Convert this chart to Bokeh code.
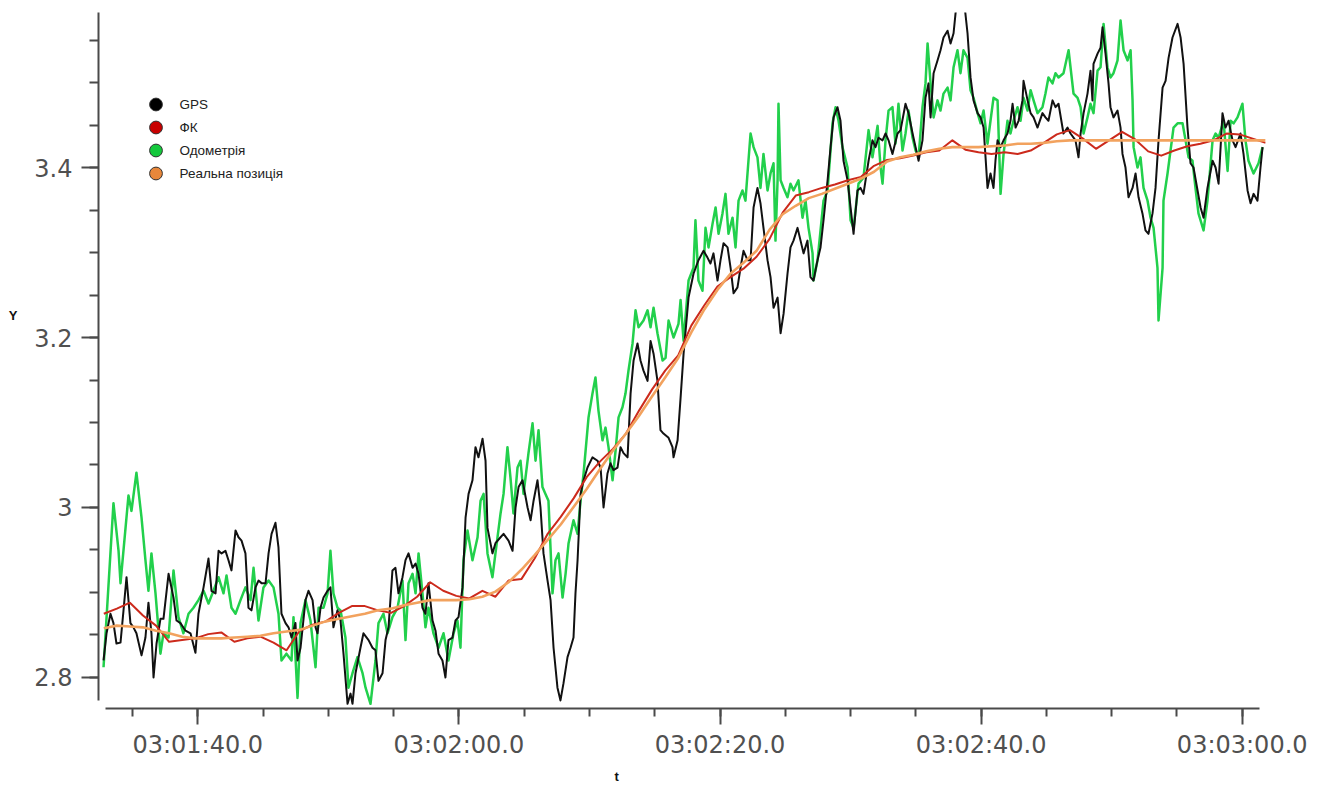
import numpy as np
from bokeh.plotting import figure
from bokeh.models import (FixedTicker, Legend, LegendItem, LinearAxis, Title, Range1d)
from bokeh.embed import file_html
from bokeh.resources import INLINE

# Time axis: seconds after 03:00:00
gps_t = [92.78, 93.01, 93.31, 93.54, 93.77, 94.08, 94.31, 94.54, 94.84, 95.07,
         95.30, 95.69, 95.99, 96.22, 96.45, 96.61, 96.84, 97.14, 97.37, 97.76,
         98.14, 98.37, 98.67, 99.06, 99.44, 99.82, 100.05, 100.44, 100.82, 101.05,
         101.36, 101.59, 101.82, 102.12, 102.35, 102.58, 102.89, 103.12, 103.35, 103.65,
         103.88, 104.11, 104.42, 104.65, 104.88, 105.19, 105.42, 105.65, 105.95, 106.18,
         106.41, 106.72, 106.95, 107.18, 107.48, 107.64, 107.87, 108.25, 108.48, 108.79,
         109.02, 109.17, 109.40, 109.63, 109.94, 110.16, 110.39, 110.70, 110.93, 111.16,
         111.47, 111.70, 111.85, 112.08, 112.46, 112.69, 113.08, 113.38, 113.61, 113.84,
         114.15, 114.38, 114.61, 114.91, 115.14, 115.37, 115.68, 115.91, 116.14, 116.45,
         116.68, 116.91, 117.21, 117.44, 117.67, 117.98, 118.21, 118.44, 118.74, 118.97,
         119.20, 119.51, 119.74, 119.97, 120.28, 120.51, 120.74, 121.04, 121.27, 121.50,
         121.81, 122.04, 122.19, 122.57, 122.80, 123.19, 123.42, 123.80, 124.11, 124.34,
         124.57, 124.87, 125.26, 125.49, 125.72, 126.02, 126.25, 126.48, 126.79, 127.02,
         127.25, 127.55, 127.78, 128.01, 128.32, 128.55, 128.78, 128.93, 129.09, 129.32,
         129.55, 129.85, 130.23, 130.62, 130.85, 131.08, 131.38, 131.61, 131.84, 132.15,
         132.38, 132.61, 132.92, 133.15, 133.38, 133.68, 133.91, 134.14, 134.45, 134.68,
         134.91, 135.21, 135.44, 135.67, 136.06, 136.36, 136.44, 136.75, 136.98, 137.21,
         137.59, 137.97, 138.35, 138.74, 139.04, 139.27, 139.50, 139.81, 140.04, 140.27,
         140.58, 140.81, 141.04, 141.34, 141.57, 141.80, 142.11, 142.34, 142.57, 142.87,
         143.10, 143.33, 143.64, 143.87, 144.10, 144.41, 144.64, 144.87, 145.17, 145.40,
         145.63, 145.94, 146.17, 146.40, 146.70, 146.93, 147.16, 147.47, 147.70, 147.93,
         148.24, 148.47, 148.70, 149.00, 149.23, 149.46, 149.77, 150.00, 150.23, 150.53,
         150.76, 150.99, 151.38, 151.68, 151.91, 152.14, 152.45, 152.68, 152.91, 153.21,
         153.60, 153.83, 154.21, 154.44, 154.75, 154.98, 155.21, 155.51, 155.74, 155.97,
         156.13, 156.36, 156.66, 156.89, 157.12, 157.43, 157.66, 157.89, 158.04, 158.19,
         158.42, 158.65, 158.96, 159.19, 159.42, 159.73, 159.96, 160.19, 160.34, 160.49,
         160.72, 160.95, 161.10, 161.26, 161.49, 161.72, 162.02, 162.25, 162.41, 162.64,
         162.87, 163.17, 163.25, 163.56, 163.79, 164.02, 164.32, 164.70, 164.93, 165.16,
         165.47, 165.70, 165.93, 166.31, 166.62, 166.85, 167.23, 167.46, 167.62, 167.85,
         168.15, 168.38, 168.53, 168.61, 168.92, 169.15, 169.30, 169.53, 169.76, 169.91,
         170.14, 170.45, 170.68, 170.83, 171.06, 171.29, 171.60, 171.83, 172.06, 172.36,
         172.59, 172.82, 173.13, 173.36, 173.59, 173.90, 174.13, 174.36, 174.66, 175.05,
         175.28, 175.51, 175.81, 176.04, 176.27, 176.58, 176.81, 177.04, 177.34, 177.73,
         177.96, 178.19, 178.49, 178.72, 178.95, 179.26, 179.49, 179.87, 180.10, 180.41,
         180.64, 180.87, 181.17, 181.40, 181.56]
gps_y = [2.820, 2.852, 2.875, 2.864, 2.840, 2.841, 2.879, 2.918, 2.864, 2.859,
         2.852, 2.826, 2.847, 2.888, 2.852, 2.800, 2.840, 2.869, 2.869, 2.922,
         2.894, 2.867, 2.864, 2.855, 2.852, 2.829, 2.875, 2.906, 2.940, 2.902,
         2.899, 2.949, 2.946, 2.949, 2.938, 2.926, 2.973, 2.965, 2.961, 2.946,
         2.882, 2.879, 2.906, 2.914, 2.911, 2.911, 2.946, 2.969, 2.982, 2.953,
         2.875, 2.864, 2.859, 2.847, 2.864, 2.820, 2.835, 2.891, 2.902, 2.891,
         2.859, 2.852, 2.882, 2.894, 2.902, 2.906, 2.859, 2.879, 2.867, 2.828,
         2.769, 2.781, 2.769, 2.805, 2.835, 2.852, 2.844, 2.835, 2.832, 2.796,
         2.805, 2.844, 2.859, 2.926, 2.929, 2.899, 2.918, 2.938, 2.946, 2.929,
         2.934, 2.922, 2.882, 2.875, 2.911, 2.867, 2.855, 2.828, 2.820, 2.800,
         2.844, 2.847, 2.867, 2.871, 2.906, 2.988, 3.016, 3.032, 3.071, 3.059,
         3.081, 3.055, 2.976, 2.946, 2.958, 2.965, 2.969, 2.961, 2.949, 3.000,
         3.024, 3.032, 3.000, 2.985, 3.008, 3.032, 3.000, 2.946, 2.914, 2.891,
         2.835, 2.788, 2.773, 2.793, 2.824, 2.835, 2.847, 2.899, 2.938, 3.016,
         3.032, 3.047, 3.059, 3.055, 3.047, 3.000, 3.040, 3.052, 3.044, 3.047,
         3.071, 3.064, 3.059, 3.134, 3.173, 3.193, 3.173, 3.161, 3.149, 3.196,
         3.181, 3.149, 3.091, 3.087, 3.082, 3.071, 3.059, 3.079, 3.129, 3.181,
         3.247, 3.275, 3.291, 3.302, 3.294, 3.287, 3.299, 3.267, 3.291, 3.311,
         3.306, 3.282, 3.252, 3.259, 3.282, 3.302, 3.291, 3.291, 3.353, 3.376,
         3.358, 3.329, 3.291, 3.271, 3.235, 3.247, 3.205, 3.228, 3.275, 3.306,
         3.314, 3.329, 3.314, 3.299, 3.314, 3.271, 3.267, 3.291, 3.306, 3.338,
         3.385, 3.424, 3.459, 3.471, 3.455, 3.408, 3.385, 3.353, 3.322, 3.373,
         3.376, 3.369, 3.408, 3.432, 3.424, 3.435, 3.432, 3.440, 3.432, 3.416,
         3.440, 3.444, 3.475, 3.464, 3.440, 3.424, 3.408, 3.432, 3.482, 3.499,
         3.459, 3.511, 3.526, 3.538, 3.553, 3.561, 3.546, 3.558, 3.581, 3.602,
         3.614, 3.602, 3.558, 3.506, 3.479, 3.464, 3.459, 3.447, 3.412, 3.376,
         3.393, 3.376, 3.408, 3.432, 3.424, 3.432, 3.440, 3.455, 3.475, 3.447,
         3.455, 3.479, 3.502, 3.479, 3.464, 3.459, 3.447, 3.464, 3.459, 3.455,
         3.479, 3.471, 3.475, 3.440, 3.447, 3.440, 3.432, 3.412, 3.440, 3.464,
         3.487, 3.514, 3.479, 3.522, 3.534, 3.541, 3.565, 3.534, 3.499, 3.471,
         3.459, 3.467, 3.447, 3.416, 3.400, 3.365, 3.376, 3.393, 3.365, 3.346,
         3.326, 3.322, 3.346, 3.376, 3.432, 3.494, 3.502, 3.529, 3.553, 3.569,
         3.553, 3.522, 3.447, 3.405, 3.400, 3.373, 3.353, 3.341, 3.376, 3.408,
         3.400, 3.381, 3.464, 3.447, 3.455, 3.432, 3.424, 3.440, 3.416, 3.373,
         3.358, 3.369, 3.361, 3.400, 3.424]

odo_t = [92.78, 93.54, 93.93, 94.08, 94.69, 94.92, 95.30, 95.69, 95.99, 96.22,
         96.45, 96.76, 97.14, 97.37, 97.76, 98.14, 98.52, 98.90, 99.29, 99.67,
         100.05, 100.44, 100.82, 101.20, 101.59, 101.97, 102.20, 102.58, 102.89, 103.27,
         103.65, 104.04, 104.27, 104.65, 105.03, 105.42, 105.80, 106.18, 106.41, 106.79,
         107.18, 107.33, 107.64, 107.87, 108.25, 108.63, 109.02, 109.25, 109.63, 109.94,
         110.16, 110.39, 110.70, 110.93, 111.31, 111.54, 111.85, 112.23, 112.62, 112.85,
         113.23, 113.61, 113.84, 114.22, 114.53, 114.91, 115.30, 115.68, 115.91, 116.14,
         116.45, 116.68, 116.91, 117.21, 117.44, 117.67, 118.05, 118.44, 118.82, 119.20,
         119.59, 119.89, 120.12, 120.35, 120.66, 121.04, 121.43, 121.66, 121.89, 122.19,
         122.57, 122.80, 123.19, 123.42, 123.72, 123.95, 124.18, 124.49, 124.72, 124.95,
         125.33, 125.64, 125.87, 126.10, 126.40, 126.63, 126.86, 127.17, 127.40, 127.63,
         127.94, 128.17, 128.40, 128.78, 129.09, 129.32, 129.55, 129.93, 130.23, 130.46,
         130.69, 131.00, 131.23, 131.46, 131.77, 132.00, 132.23, 132.53, 132.76, 132.99,
         133.30, 133.53, 133.76, 134.14, 134.45, 134.68, 134.91, 135.21, 135.60, 135.83,
         136.06, 136.44, 136.82, 136.98, 137.21, 137.59, 137.97, 138.12, 138.35, 138.66,
         138.89, 139.12, 139.43, 139.66, 139.89, 140.19, 140.42, 140.65, 140.96, 141.19,
         141.42, 141.72, 141.95, 142.18, 142.34, 142.57, 142.87, 143.10, 143.33, 143.64,
         143.87, 144.10, 144.25, 144.41, 144.48, 144.64, 144.87, 145.17, 145.40, 145.63,
         146.01, 146.32, 146.55, 146.78, 147.09, 147.16, 147.47, 147.70, 147.93, 148.24,
         148.62, 148.85, 149.08, 149.38, 149.77, 150.00, 150.23, 150.61, 150.99, 151.38,
         151.68, 152.07, 152.30, 152.45, 152.68, 152.91, 153.21, 153.44, 153.67, 153.98,
         154.21, 154.44, 154.75, 154.98, 155.21, 155.51, 155.74, 155.90, 156.13, 156.36,
         156.66, 156.89, 157.12, 157.43, 157.66, 157.89, 158.19, 158.42, 158.65, 158.96,
         159.19, 159.42, 159.73, 159.96, 160.19, 160.49, 160.72, 160.95, 161.26, 161.49,
         161.72, 162.02, 162.25, 162.48, 162.79, 163.02, 163.25, 163.56, 163.79, 164.02,
         164.32, 164.70, 164.93, 165.16, 165.47, 165.70, 165.93, 166.31, 166.70, 167.08,
         167.39, 167.62, 167.85, 168.15, 168.38, 168.61, 168.92, 169.15, 169.38, 169.68,
         169.91, 170.14, 170.45, 170.68, 170.91, 171.22, 171.45, 171.60, 171.68, 171.98,
         172.21, 172.44, 172.75, 172.98, 173.21, 173.51, 173.59, 173.90, 173.97, 174.28,
         174.51, 174.74, 175.05, 175.43, 175.66, 175.89, 176.19, 176.42, 176.65, 177.04,
         177.34, 177.73, 177.96, 178.19, 178.57, 178.88, 179.11, 179.34, 179.64, 180.02,
         180.25, 180.48, 180.87, 181.25, 181.56]
odo_y = [2.812, 3.005, 2.949, 2.911, 3.014, 2.996, 3.041, 2.988, 2.938, 2.902,
         2.946, 2.899, 2.828, 2.852, 2.847, 2.926, 2.871, 2.852, 2.875, 2.882,
         2.891, 2.902, 2.887, 2.902, 2.918, 2.899, 2.920, 2.882, 2.875, 2.891,
         2.906, 2.891, 2.929, 2.867, 2.906, 2.914, 2.906, 2.875, 2.820, 2.828,
         2.820, 2.871, 2.776, 2.864, 2.891, 2.867, 2.812, 2.882, 2.882, 2.899,
         2.949, 2.899, 2.882, 2.879, 2.847, 2.788, 2.805, 2.824, 2.805, 2.788,
         2.769, 2.820, 2.864, 2.875, 2.852, 2.871, 2.882, 2.914, 2.844, 2.911,
         2.922, 2.899, 2.946, 2.899, 2.859, 2.882, 2.852, 2.835, 2.852, 2.820,
         2.852, 2.867, 2.835, 2.938, 2.973, 2.938, 2.965, 3.008, 3.016, 2.946,
         2.918, 2.946, 2.993, 3.016, 3.071, 3.035, 2.993, 3.047, 3.055, 3.016,
         3.064, 3.099, 3.055, 3.091, 3.024, 3.016, 3.008, 2.899, 2.938, 2.946,
         2.894, 2.922, 2.958, 2.985, 2.969, 3.008, 3.040, 3.106, 3.134, 3.153,
         3.114, 3.079, 3.094, 3.071, 3.032, 3.067, 3.106, 3.118, 3.134, 3.161,
         3.193, 3.232, 3.212, 3.220, 3.232, 3.212, 3.235, 3.205, 3.173, 3.176,
         3.220, 3.200, 3.216, 3.244, 3.196, 3.267, 3.282, 3.338, 3.267, 3.255,
         3.329, 3.306, 3.334, 3.353, 3.322, 3.346, 3.369, 3.322, 3.341, 3.306,
         3.361, 3.373, 3.361, 3.408, 3.440, 3.424, 3.412, 3.376, 3.416, 3.373,
         3.393, 3.405, 3.314, 3.385, 3.475, 3.385, 3.376, 3.365, 3.381, 3.373,
         3.385, 3.341, 3.361, 3.329, 3.299, 3.267, 3.291, 3.326, 3.361, 3.373,
         3.452, 3.471, 3.455, 3.424, 3.400, 3.338, 3.329, 3.381, 3.388, 3.444,
         3.412, 3.449, 3.400, 3.381, 3.432, 3.467, 3.471, 3.428, 3.475, 3.420,
         3.440, 3.467, 3.435, 3.420, 3.412, 3.471, 3.499, 3.546, 3.499, 3.459,
         3.479, 3.467, 3.487, 3.494, 3.479, 3.518, 3.538, 3.511, 3.538, 3.529,
         3.491, 3.482, 3.464, 3.452, 3.467, 3.428, 3.455, 3.482, 3.479, 3.369,
         3.416, 3.455, 3.440, 3.455, 3.471, 3.455, 3.482, 3.467, 3.491, 3.479,
         3.464, 3.471, 3.487, 3.506, 3.499, 3.511, 3.506, 3.511, 3.538, 3.487,
         3.482, 3.471, 3.440, 3.459, 3.475, 3.464, 3.514, 3.518, 3.569, 3.518,
         3.506, 3.511, 3.526, 3.573, 3.538, 3.526, 3.538, 3.479, 3.424, 3.400,
         3.412, 3.376, 3.361, 3.341, 3.329, 3.282, 3.220, 3.282, 3.361, 3.393,
         3.420, 3.447, 3.452, 3.452, 3.432, 3.412, 3.408, 3.376, 3.346, 3.326,
         3.361, 3.432, 3.440, 3.435, 3.455, 3.396, 3.455, 3.452, 3.459, 3.475,
         3.432, 3.408, 3.393, 3.405, 3.424]

kf_t0, kf_dt = 92.8, 1.0
kf_y = [2.875, 2.881, 2.888, 2.873, 2.861, 2.842, 2.844, 2.846, 2.851, 2.853,
        2.842, 2.846, 2.848, 2.841, 2.832, 2.855, 2.862, 2.866, 2.876, 2.884,
        2.884, 2.879, 2.876, 2.884, 2.895, 2.912, 2.902, 2.896, 2.893, 2.902,
        2.895, 2.914, 2.916, 2.940, 2.969, 2.989, 3.011, 3.036, 3.054, 3.069,
        3.087, 3.114, 3.139, 3.161, 3.179, 3.214, 3.238, 3.260, 3.271, 3.281,
        3.295, 3.316, 3.347, 3.367, 3.371, 3.376, 3.380, 3.385, 3.389, 3.402,
        3.409, 3.411, 3.414, 3.418, 3.420, 3.432, 3.421, 3.418, 3.416, 3.418,
        3.416, 3.420, 3.429, 3.439, 3.444, 3.434, 3.422, 3.432, 3.442, 3.433,
        3.419, 3.414, 3.420, 3.425, 3.428, 3.432, 3.440, 3.439, 3.434, 3.429]

true_t0, true_dt = 92.8, 1.0
true_y = [2.858, 2.861, 2.860, 2.859, 2.855, 2.852, 2.848, 2.846, 2.846, 2.846,
          2.847, 2.848, 2.849, 2.852, 2.854, 2.856, 2.861, 2.866, 2.869, 2.872,
          2.875, 2.879, 2.881, 2.885, 2.888, 2.891, 2.891, 2.891, 2.892, 2.895,
          2.901, 2.912, 2.927, 2.944, 2.962, 2.980, 3.001, 3.022, 3.045, 3.067,
          3.087, 3.108, 3.131, 3.153, 3.176, 3.206, 3.233, 3.256, 3.275, 3.288,
          3.302, 3.327, 3.345, 3.355, 3.364, 3.369, 3.375, 3.381, 3.387, 3.395,
          3.407, 3.412, 3.415, 3.419, 3.422, 3.424, 3.424, 3.424, 3.425, 3.426,
          3.428, 3.428, 3.429, 3.431, 3.432, 3.432, 3.432, 3.432, 3.432, 3.432,
          3.432, 3.432, 3.432, 3.432, 3.432, 3.432, 3.432, 3.432, 3.432, 3.432]

series_names = ["GPS", "ФК", "Одометрія", "Реальна позиція"]
line_colors = ["#111111", "#cc2a1c", "#22d04c", "#f2a25e"]
marker_colors = ["#000000", "#c80000", "#14c83c", "#e8873a"]

x_major = [100, 120, 140, 160, 180]
x_labels = ["03:01:40.0", "03:02:00.0", "03:02:20.0", "03:02:40.0", "03:03:00.0"]
x_mid = [110, 130, 150, 170]
x_minor = list(range(95, 181, 5))
y_major = [2.8, 3.0, 3.2, 3.4]
y_labels = ["2.8", "3", "3.2", "3.4"]
y_mid = [2.9, 3.1, 3.3, 3.5]
y_minor = [round(2.8 + 0.05 * k, 2) for k in range(16)]

kf_t = kf_t0 + np.arange(len(kf_y)) * kf_dt
true_t = true_t0 + np.arange(len(true_y)) * true_dt

AXIS = "#4a4a4a"
TICK_TEXT = "#505050"
X0, X1 = 92.394, 181.784
Y0, Y1 = 2.7635, 3.5824

p = figure(width=1326, height=789,
           x_range=Range1d(X0, X1), y_range=Range1d(Y0, Y1),
           output_backend="svg", toolbar_location=None,
           min_border_left=98, min_border_right=61,
           min_border_top=12, min_border_bottom=81)
p.xgrid.visible = False
p.ygrid.visible = False
p.outline_line_color = None
p.background_fill_color = "white"
p.border_fill_color = "white"

# traces
p.line(odo_t, odo_y, line_color=line_colors[2], line_width=2.5, line_join="round")
p.line(gps_t, gps_y, line_color=line_colors[0], line_width=2.0, line_join="round")
p.line(kf_t, kf_y, line_color=line_colors[1], line_width=2.0, line_join="round")
p.line(true_t, true_y, line_color=line_colors[3], line_width=2.6, line_join="round")


def style_axis(ax):
    ax.axis_line_color = AXIS
    ax.axis_line_width = 2
    ax.major_tick_line_color = AXIS
    ax.major_tick_line_width = 2
    ax.minor_tick_line_color = AXIS
    ax.minor_tick_line_width = 2
    ax.major_tick_in = 0
    ax.minor_tick_in = 0
    ax.major_label_text_font = "DejaVu Sans"
    ax.major_label_text_font_size = "24px"
    ax.major_label_text_color = TICK_TEXT


xa = p.xaxis[0]
style_axis(xa)
xa.ticker = FixedTicker(ticks=x_major, minor_ticks=x_minor)
xa.major_label_overrides = dict(zip(x_major, x_labels))
xa.bounds = (92.93, 181.33)
xa.major_tick_out = 16
xa.minor_tick_out = 8
xa.major_label_standoff = 6

ya = p.yaxis[0]
style_axis(ya)
ya.ticker = FixedTicker(ticks=y_major, minor_ticks=y_minor)
ya.major_label_overrides = dict(zip(y_major, y_labels))
ya.bounds = (2.7729, Y1)
ya.major_tick_out = 17
ya.minor_tick_out = 9
ya.major_label_standoff = 9
# trailing blank lines lift the horizontal title above the axis centre
ya.axis_label = "Y" + "\n" * 5
ya.axis_label_orientation = "horizontal"
ya.axis_label_standoff = 14
ya.axis_label_text_font = "Liberation Sans"
ya.axis_label_text_font_style = "bold"
ya.axis_label_text_font_size = "13px"
ya.axis_label_text_color = "#111111"


def mid_tick_axis(ticks, loc):
    # unlabeled axis pinned to the frame edge, drawing the intermediate ticks
    ax = LinearAxis(fixed_location=loc, ticker=FixedTicker(ticks=ticks, minor_ticks=[]),
                    axis_line_color=None, major_tick_line_color=AXIS,
                    major_tick_line_width=2, major_tick_in=12, major_tick_out=0,
                    minor_tick_line_color=None, major_label_standoff=0,
                    major_label_text_font_size="0px")
    ax.major_label_overrides = {t: "" for t in ticks}
    return ax


p.add_layout(mid_tick_axis(x_mid, Y0), "above")
p.add_layout(mid_tick_axis(y_mid, X0), "right")

p.add_layout(Title(text="t", align="left", offset=516, standoff=10,
                   text_font="Liberation Sans", text_font_style="bold",
                   text_font_size="13px", text_color="#111111"), "below")

# legend with round markers
items = []
for name, mc in zip(series_names, marker_colors):
    r = p.ellipse(x=np.array([np.nan]), y=np.array([np.nan]), width=13, height=13,
                  width_units="screen", height_units="screen",
                  fill_color=mc, line_color="#333333", line_width=1)
    items.append(LegendItem(label=name, renderers=[r]))
legend = Legend(items=items, location=(40.5, 523.5), glyph_width=33,
                glyph_height=16, label_height=23, spacing=0, label_standoff=8,
                padding=0, margin=0, border_line_color=None,
                background_fill_alpha=0,
                label_text_font="Liberation Sans", label_text_font_size="13.5px",
                label_text_color="#222222")
p.add_layout(legend)

open("out.html", "w").write(file_html(p, INLINE))
